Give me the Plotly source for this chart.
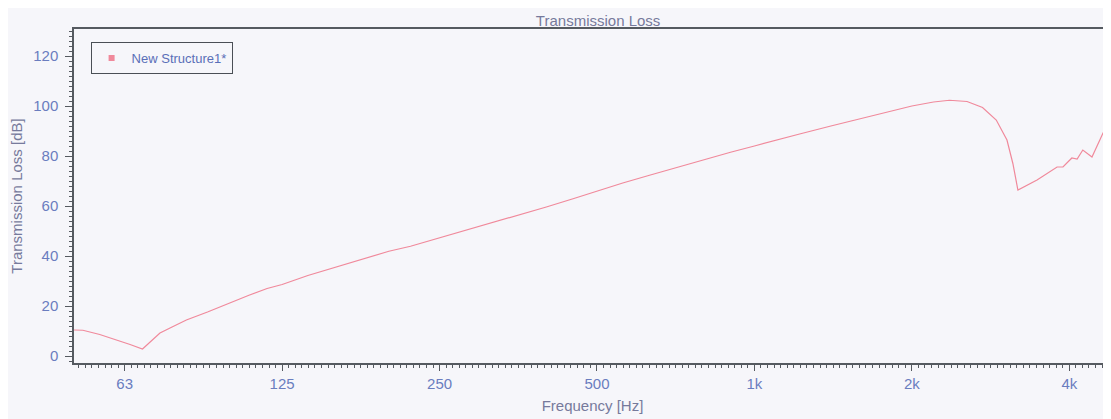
import plotly.graph_objects as go
import math

# Frequency [Hz] and transmission loss [dB]
freq_hz = [50, 52, 56, 60, 64, 67.6, 70, 73, 77, 82, 90, 100, 108, 117, 125,
           140, 160, 180, 200, 220, 250, 280, 320, 360, 400, 450, 500, 560,
           630, 710, 800, 900, 1000, 1120, 1220, 1400, 1600, 1800, 2000,
           2200, 2360, 2550, 2730, 2900, 3040, 3120, 3190, 3470, 3790, 3890,
           4045, 4140, 4245, 4420, 4640, 4800]
tl_db = [10.4, 10.3, 8.6, 6.6, 4.6, 2.8, 5.6, 9.2, 11.6, 14.4, 17.6, 21.6,
         24.3, 27.0, 28.6, 32.2, 35.9, 39.2, 41.9, 43.9, 47.2, 50.4, 53.7,
         56.8, 59.6, 62.9, 66.0, 69.2, 72.3, 75.4, 78.6, 81.5, 84.0, 86.8,
         88.8, 92.0, 95.1, 97.8, 100.0, 101.6, 102.3, 101.8, 99.4, 94.4,
         86.4, 77.0, 66.4, 70.4, 75.6, 75.6, 79.2, 78.8, 82.4, 79.6, 89.2,
         87.6]

x_tick_vals = [62.5, 125, 250, 500, 1000, 2000, 4000]
x_tick_text = ["63", "125", "250", "500", "1k", "2k", "4k"]
y_tick_vals = [0, 20, 40, 60, 80, 100, 120]

series_name = "New Structure1*"

line_color = "#f0899b"
bg = "#f6f6fa"
tick_color = "#6a7dbf"
title_color = "#767a9c"
axis_line = "#555a60"
font_family = "Liberation Sans, Arial, sans-serif"

x_min, x_max = 50, 4806
# minor ticks every 1/24 octave, anchored on the 62.5 Hz octave tick
x_minor = [62.5 * 2 ** (k / 24) for k in range(-10, 160)]
x_minor = [v for v in x_minor if x_min <= v <= x_max]

fig = go.Figure()
fig.add_trace(go.Scatter(
    x=freq_hz, y=tl_db, mode="lines", name=series_name,
    line=dict(color=line_color, width=1.2), showlegend=False,
    legendgroup="s1", hoverinfo="x+y"))
fig.add_trace(go.Scatter(
    x=[None], y=[None], mode="markers", name=series_name,
    marker=dict(symbol="square", size=6, color=line_color),
    legendgroup="s1", showlegend=True))

# the page body keeps an 8px default margin, so the figure is sized to fill
# the 1111x419 window from that offset
fig.update_layout(
    width=1103, height=411,
    margin=dict(l=66, r=0, t=21, b=56, autoexpand=False),
    paper_bgcolor=bg, plot_bgcolor=bg,
    font=dict(family=font_family, size=15, color=tick_color),
    title=dict(text="Transmission Loss", x=0.535, xref="container",
               xanchor="center", y=0.968, yref="container", yanchor="middle",
               font=dict(size=15, color=title_color)),
    showlegend=True,
    legend=dict(x=0.016, y=0.961, xanchor="left", yanchor="top",
                bgcolor=bg, bordercolor="#4a4f55", borderwidth=1,
                font=dict(size=13, color="#5a6fb8"), itemwidth=30,
                tracegroupgap=0),
)

fig.update_xaxes(
    type="log",
    range=[math.log10(x_min), math.log10(x_max)],
    automargin=False,
    tickmode="array", tickvals=x_tick_vals, ticktext=x_tick_text,
    ticks="outside", ticklen=6, tickcolor=axis_line, tickwidth=1,
    tickfont=dict(size=15, color=tick_color),
    showline=True, linecolor=axis_line, linewidth=1.5, mirror=True,
    showgrid=False, zeroline=False,
    minor=dict(tickmode="array", tickvals=x_minor, ticks="outside",
               ticklen=3, tickcolor=axis_line, tickwidth=1, showgrid=False),
    title=dict(text="Frequency [Hz]", standoff=10,
               font=dict(size=15, color=title_color)),
)
fig.update_yaxes(
    range=[-2.8, 130.8],
    automargin=False,
    tickmode="linear", tick0=0, dtick=20,
    ticks="outside", ticklen=7, tickcolor=axis_line, tickwidth=1,
    ticklabelstandoff=4,
    tickfont=dict(size=15, color=tick_color),
    showline=True, linecolor=axis_line, linewidth=1.5, mirror=False,
    showgrid=False, zeroline=False,
    minor=dict(tickmode="linear", tick0=0, dtick=2, ticks="outside",
               ticklen=3, tickcolor=axis_line, tickwidth=1, showgrid=False),
    title=dict(text="Transmission Loss [dB]", standoff=8,
               font=dict(size=15, color=title_color)),
)

fig.write_html("out.html", config={"displayModeBar": False})
